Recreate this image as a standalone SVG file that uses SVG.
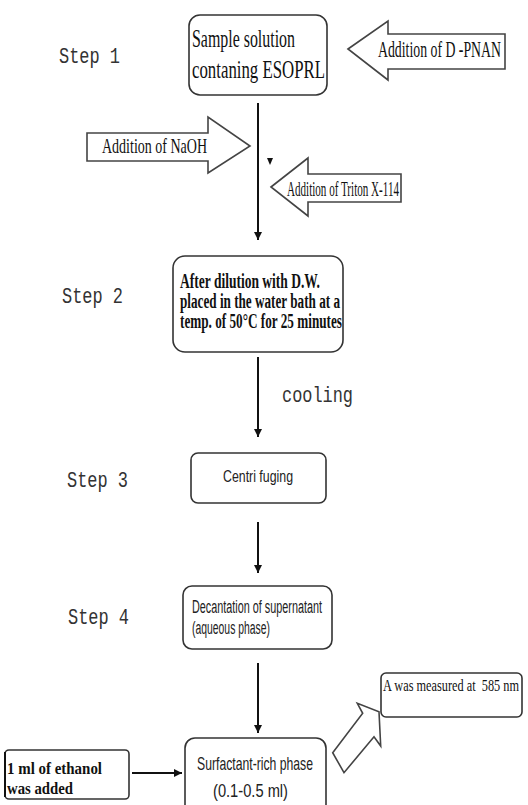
<svg xmlns="http://www.w3.org/2000/svg" width="528" height="805" viewBox="0 0 528 805">
<defs>
<marker id="ah" viewBox="0 0 10 10" refX="10" refY="5" markerWidth="4" markerHeight="5" markerUnits="strokeWidth" orient="auto">
<path d="M0,0 L10,5 L0,10 z" fill="#111"/>
</marker>
<style>
.box{fill:#fff;stroke:#333;stroke-width:1.6}
.blk{fill:#fff;stroke:#444;stroke-width:1.6;stroke-linejoin:miter}
.ln{stroke:#111;stroke-width:2;fill:none}
.ser{font-family:"Liberation Serif","Times New Roman",serif;fill:#111}
.serb{font-family:"Liberation Serif","Times New Roman",serif;font-weight:bold;fill:#111}
.sans{font-family:"Liberation Sans",Arial,sans-serif;fill:#222}
.mono{font-family:"Liberation Mono","Courier New",monospace;fill:#333}
</style>
</defs>
<rect width="528" height="805" fill="#fff"/>

<g id="step-labels">
<text class="mono" x="59" y="63" font-size="22" textLength="61" lengthAdjust="spacingAndGlyphs">Step 1</text>
<text class="mono" x="62" y="303" font-size="22" textLength="61" lengthAdjust="spacingAndGlyphs">Step 2</text>
<text class="mono" x="67" y="487" font-size="22" textLength="61" lengthAdjust="spacingAndGlyphs">Step 3</text>
<text class="mono" x="68" y="624" font-size="22" textLength="61" lengthAdjust="spacingAndGlyphs">Step 4</text>
</g>

<g id="connectors">
<line class="ln" x1="258" y1="103" x2="258" y2="240" marker-end="url(#ah)"/>
<path d="M267,158 L273,158 L270,165 z" fill="#111"/>
<line class="ln" x1="258" y1="357" x2="258" y2="437" marker-end="url(#ah)"/>
<line class="ln" x1="258" y1="522" x2="258" y2="573" marker-end="url(#ah)"/>
<line class="ln" x1="258" y1="663" x2="258" y2="733" marker-end="url(#ah)"/>
<line class="ln" x1="132" y1="773" x2="182" y2="773" stroke-width="2.5" marker-end="url(#ah)"/>
<text class="mono" x="282" y="402" font-size="22" textLength="71" lengthAdjust="spacingAndGlyphs">cooling</text>
</g>

<g id="n-sample">
<rect class="box" x="189" y="15" width="138" height="80" rx="11"/>
<text class="ser" x="192" y="47" font-size="25" textLength="103" lengthAdjust="spacingAndGlyphs">Sample solution</text>
<text class="ser" x="192" y="78" font-size="25" textLength="133" lengthAdjust="spacingAndGlyphs">contaning ESOPRL</text>
</g>

<g id="n-dpnan">
<polygon class="blk" points="348,49 388,21 388,34 505,34 505,69 388,69 388,80"/>
<text class="ser" x="378" y="57" font-size="23" textLength="123" lengthAdjust="spacingAndGlyphs">Addition of D -PNAN</text>
</g>

<g id="n-naoh">
<polygon class="blk" points="87,133 208,133 208,117 250,146 208,173 208,161 87,161"/>
<text class="ser" x="102" y="153" font-size="22" textLength="105" lengthAdjust="spacingAndGlyphs">Addition of NaOH</text>
</g>

<g id="n-triton">
<polygon class="blk" points="271,187 308,158 308,174 401,174 401,202 308,202 308,216"/>
<text class="ser" x="287" y="196" font-size="22" textLength="112" lengthAdjust="spacingAndGlyphs">Addition of Triton X-114</text>
</g>

<g id="n-dilution">
<rect class="box" x="173" y="256" width="170" height="96" rx="12"/>
<text class="serb" x="180" y="288" font-size="20" textLength="140" lengthAdjust="spacingAndGlyphs">After dilution with D.W.</text>
<text class="serb" x="180" y="308" font-size="20" textLength="160" lengthAdjust="spacingAndGlyphs">placed in the water bath at a</text>
<text class="serb" x="180" y="328" font-size="20" textLength="162" lengthAdjust="spacingAndGlyphs">temp. of 50°C for 25 minutes</text>
</g>

<g id="n-centri">
<rect class="box" x="191" y="453" width="135" height="50" rx="7"/>
<text class="sans" x="223" y="482" font-size="17" textLength="70" lengthAdjust="spacingAndGlyphs">Centri fuging</text>
</g>

<g id="n-decant">
<rect class="box" x="183" y="586" width="149" height="63" rx="9"/>
<text class="sans" x="192" y="613" font-size="18" textLength="130" lengthAdjust="spacingAndGlyphs">Decantation of supernatant</text>
<text class="sans" x="192" y="634" font-size="18" textLength="78" lengthAdjust="spacingAndGlyphs">(aqueous phase)</text>
</g>

<g id="n-surfactant">
<rect class="box" x="185" y="738" width="141" height="80" rx="10"/>
<text class="sans" x="197" y="770" font-size="18.5" textLength="116" lengthAdjust="spacingAndGlyphs">Surfactant-rich phase</text>
<text class="sans" x="213" y="797" font-size="18.5" textLength="75" lengthAdjust="spacingAndGlyphs">(0.1-0.5 ml)</text>
</g>

<g id="n-ethanol">
<rect class="box" x="5" y="750" width="124" height="49" rx="4"/>
<line x1="5" y1="752" x2="5" y2="797" stroke="#111" stroke-width="2"/>
<text class="serb" x="7" y="774" font-size="17" textLength="95" lengthAdjust="spacingAndGlyphs">1 ml of ethanol</text>
<text class="serb" x="7" y="794" font-size="17" textLength="66" lengthAdjust="spacingAndGlyphs">was added</text>
</g>

<g id="n-measure-arrow">
<polygon class="blk" points="332.7,752.7 362.7,713.3 357.3,703.3 379,711.7 380.7,746 374,736.7 344,772.7"/>
</g>

<g id="n-measured">
<rect class="box" x="381" y="673" width="141" height="44" rx="5"/>
<text class="ser" x="383" y="691" font-size="16" textLength="136" lengthAdjust="spacingAndGlyphs" xml:space="preserve">A was measured at  585 nm</text>
</g>
</svg>
